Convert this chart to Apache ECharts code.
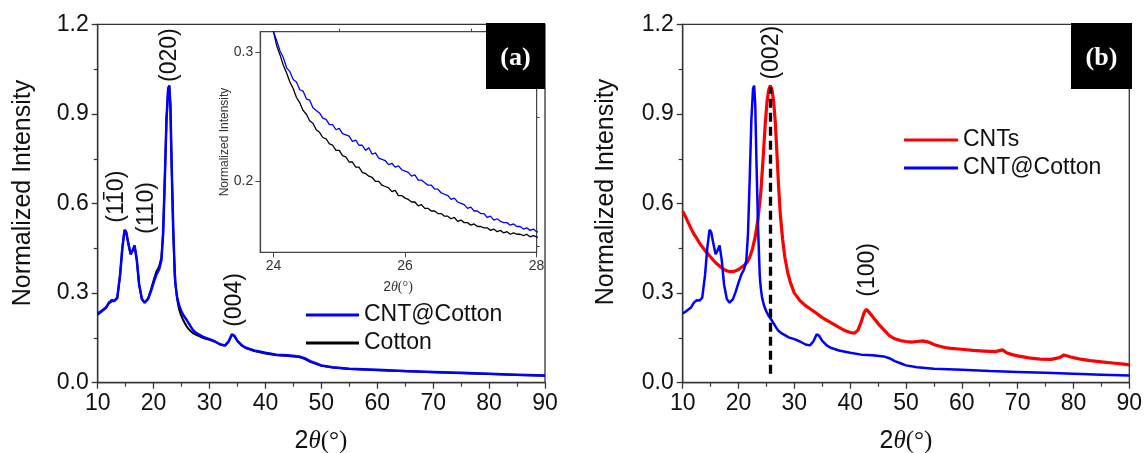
<!DOCTYPE html>
<html>
<head>
<meta charset="utf-8">
<script src="https://cdn.jsdelivr.net/npm/echarts@6/dist/echarts.min.js"></script>
<style>
  html, body { margin: 0; padding: 0; background: #fff; }
  #chart { width: 1144px; height: 453px; }
</style>
</head>
<body>
<div id="chart"></div>
<script>
// ---- XRD patterns: [2θ (°), normalized intensity] ----

// CNT@Cotton (dense sampling across 24–28° for the zoomed inset)
const cntCotton = [
  [10, 0.232], [10.5, 0.238], [11, 0.245], [11.5, 0.252], [12, 0.268], [12.5, 0.276],
  [13, 0.275], [13.5, 0.285], [14, 0.36], [14.4, 0.45], [14.8, 0.512], [15.1, 0.505],
  [15.5, 0.465], [15.9, 0.43], [16.3, 0.445], [16.6, 0.46], [17.0, 0.41], [17.4, 0.33],
  [17.9, 0.28], [18.4, 0.268], [19.0, 0.28], [19.5, 0.305], [20.0, 0.335], [20.5, 0.362],
  [21.0, 0.38], [21.4, 0.41], [21.7, 0.5], [22.0, 0.68], [22.3, 0.88], [22.6, 0.985],
  [22.8, 0.995], [23.0, 0.93], [23.2, 0.75], [23.5, 0.52], [23.8, 0.36], [23.9, 0.335],
  [24.00, 0.316], [24.05, 0.309], [24.10, 0.301], [24.15, 0.296], [24.20, 0.288], [24.25, 0.285],
  [24.30, 0.279], [24.35, 0.277], [24.40, 0.271], [24.45, 0.270], [24.50, 0.264], [24.55, 0.263],
  [24.60, 0.257], [24.65, 0.255], [24.70, 0.253], [24.75, 0.249], [24.80, 0.248], [24.85, 0.244],
  [24.90, 0.244], [24.95, 0.240], [25.00, 0.241], [25.05, 0.237], [25.10, 0.236], [25.15, 0.235],
  [25.20, 0.231], [25.25, 0.232], [25.30, 0.228], [25.35, 0.228], [25.40, 0.224], [25.45, 0.226],
  [25.50, 0.221], [25.55, 0.222], [25.60, 0.218], [25.65, 0.217], [25.70, 0.216], [25.75, 0.213],
  [25.80, 0.214], [25.85, 0.211], [25.90, 0.212], [25.95, 0.209], [26.00, 0.208], [26.05, 0.207],
  [26.10, 0.204], [26.15, 0.205], [26.20, 0.201], [26.25, 0.201], [26.30, 0.199], [26.35, 0.197],
  [26.40, 0.197], [26.45, 0.194], [26.50, 0.194], [26.55, 0.191], [26.60, 0.190], [26.65, 0.189],
  [26.70, 0.186], [26.75, 0.187], [26.80, 0.184], [26.85, 0.183], [26.90, 0.182], [26.95, 0.179],
  [27.00, 0.180], [27.05, 0.177], [27.10, 0.177], [27.15, 0.175], [27.20, 0.175], [27.25, 0.172],
  [27.30, 0.173], [27.35, 0.170], [27.40, 0.171], [27.45, 0.169], [27.50, 0.168], [27.55, 0.168],
  [27.60, 0.166], [27.65, 0.167], [27.70, 0.165], [27.75, 0.165], [27.80, 0.163], [27.85, 0.164],
  [27.90, 0.162], [27.95, 0.163], [28.00, 0.161],
  [29, 0.152], [30, 0.146], [31, 0.138], [32, 0.128], [32.8, 0.125], [33.4, 0.138],
  [34.0, 0.162], [34.4, 0.158], [35.0, 0.14], [35.8, 0.125], [36.5, 0.117], [38, 0.108],
  [40, 0.1], [42, 0.094], [44, 0.092], [46, 0.088], [47, 0.082], [48, 0.072], [49, 0.065],
  [50, 0.058], [52, 0.052], [55, 0.047], [60, 0.043], [65, 0.039], [70, 0.036], [75, 0.033],
  [80, 0.030], [85, 0.027], [90, 0.024]
];

// Cotton
const cotton = [
  [10, 0.228], [10.5, 0.235], [11, 0.243], [11.5, 0.25], [12, 0.265], [12.5, 0.273],
  [13, 0.273], [13.5, 0.283], [14, 0.36], [14.4, 0.45], [14.8, 0.51], [15.1, 0.503],
  [15.5, 0.463], [15.9, 0.43], [16.3, 0.444], [16.6, 0.458], [17.0, 0.41], [17.4, 0.33],
  [17.9, 0.28], [18.4, 0.268], [19.0, 0.282], [19.5, 0.31], [20.0, 0.343], [20.5, 0.372],
  [21.0, 0.39], [21.4, 0.42], [21.7, 0.5], [22.0, 0.68], [22.3, 0.88], [22.6, 0.985],
  [22.8, 0.995], [23.0, 0.93], [23.2, 0.75], [23.5, 0.51], [23.8, 0.35], [23.9, 0.33],
  [24.00, 0.316], [24.05, 0.305], [24.10, 0.298], [24.15, 0.290], [24.20, 0.284], [24.25, 0.277],
  [24.30, 0.272], [24.35, 0.265], [24.40, 0.261], [24.45, 0.255], [24.50, 0.252], [24.55, 0.247],
  [24.60, 0.245], [24.65, 0.240], [24.70, 0.238], [24.75, 0.234], [24.80, 0.233], [24.85, 0.229],
  [24.90, 0.228], [24.95, 0.224], [25.00, 0.224], [25.05, 0.220], [25.10, 0.219], [25.15, 0.215],
  [25.20, 0.215], [25.25, 0.211], [25.30, 0.211], [25.35, 0.207], [25.40, 0.206], [25.45, 0.204],
  [25.50, 0.203], [25.55, 0.200], [25.60, 0.200], [25.65, 0.197], [25.70, 0.196], [25.75, 0.195],
  [25.80, 0.192], [25.85, 0.193], [25.90, 0.189], [25.95, 0.189], [26.00, 0.187], [26.05, 0.186],
  [26.10, 0.184], [26.15, 0.184], [26.20, 0.181], [26.25, 0.182], [26.30, 0.179], [26.35, 0.179],
  [26.40, 0.177], [26.45, 0.177], [26.50, 0.175], [26.55, 0.175], [26.60, 0.173], [26.65, 0.173],
  [26.70, 0.171], [26.75, 0.172], [26.80, 0.169], [26.85, 0.170], [26.90, 0.168], [26.95, 0.168],
  [27.00, 0.166], [27.05, 0.167], [27.10, 0.165], [27.15, 0.165], [27.20, 0.164], [27.25, 0.164],
  [27.30, 0.162], [27.35, 0.163], [27.40, 0.161], [27.45, 0.162], [27.50, 0.160], [27.55, 0.161],
  [27.60, 0.159], [27.65, 0.160], [27.70, 0.159], [27.75, 0.159], [27.80, 0.158], [27.85, 0.159],
  [27.90, 0.157], [27.95, 0.158], [28.00, 0.157],
  [29, 0.149], [30, 0.144], [31, 0.137], [32, 0.127], [32.8, 0.124], [33.4, 0.137],
  [34.0, 0.16], [34.4, 0.157], [35.0, 0.139], [35.8, 0.124], [36.5, 0.116], [38, 0.106],
  [40, 0.098], [42, 0.092], [44, 0.089], [46, 0.086], [47, 0.08], [48, 0.07], [49, 0.063],
  [50, 0.057], [52, 0.051], [55, 0.046], [60, 0.042], [65, 0.038], [70, 0.035], [75, 0.032],
  [80, 0.029], [85, 0.026], [90, 0.023]
];

// CNTs
const cnts = [
  [10, 0.574], [10.5, 0.556], [11, 0.536], [11.5, 0.516], [12, 0.498], [12.5, 0.484],
  [13, 0.468], [13.5, 0.455], [14, 0.443], [14.5, 0.432], [15, 0.421], [15.5, 0.41],
  [16, 0.4], [16.5, 0.392], [17, 0.385], [17.5, 0.378], [18, 0.374], [18.5, 0.372],
  [19, 0.372], [19.5, 0.375], [20, 0.379], [20.5, 0.386], [21, 0.393], [21.5, 0.402],
  [22, 0.42], [22.5, 0.448], [23, 0.49], [23.5, 0.55], [24, 0.64], [24.4, 0.75],
  [24.8, 0.87], [25.1, 0.94], [25.4, 0.98], [25.7, 0.995], [26.0, 0.98], [26.3, 0.94],
  [26.6, 0.87], [26.9, 0.76], [27.2, 0.65], [27.5, 0.56], [27.9, 0.48], [28.3, 0.42],
  [28.8, 0.37], [29.3, 0.335], [30, 0.3], [31, 0.275], [32, 0.258], [33, 0.245],
  [34, 0.232], [35, 0.218], [36, 0.207], [37, 0.196], [38, 0.185], [39, 0.175],
  [40, 0.168], [40.8, 0.166], [41.4, 0.176], [42, 0.205], [42.5, 0.235], [42.9, 0.246],
  [43.3, 0.238], [44, 0.222], [45, 0.198], [46, 0.178], [47, 0.158], [48, 0.147],
  [49, 0.141], [50, 0.138], [51, 0.136], [52, 0.138], [53, 0.14], [54, 0.136],
  [55, 0.128], [56, 0.122], [57, 0.118], [58, 0.115], [60, 0.112], [62, 0.108],
  [64, 0.106], [66, 0.104], [67.3, 0.11], [68, 0.1], [69, 0.094], [70, 0.09],
  [72, 0.083], [74, 0.079], [76, 0.078], [77.5, 0.084], [78.3, 0.093], [79.5, 0.086],
  [81, 0.08], [83, 0.074], [85, 0.07], [87, 0.066], [89, 0.062], [90, 0.06]
];

// (002) reference position drawn as a dashed guide in panel (b)
const guide002X = 25.6;
const guide002Y = [0.03, 0.99];

// Reflection labels: [text, 2θ, intensity, barred character index or -1]
const peakLabelsA = [
  ['(020)', 22.9, 1.097, -1],
  ['(110)', 13.4, 0.623, 2],
  ['(110)', 18.75, 0.585, -1],
  ['(004)', 34.5, 0.277, -1]
];
const peakLabelsB = [
  ['(002)', 25.94, 1.105, -1],
  ['(100)', 43.2, 0.378, -1]
];

// Axis ticks
const mainXTicks = { min: 10, max: 90, interval: 10 };
const mainYTicks = { min: 0, max: 1.2, interval: 0.3 };
const insetXRange = [23.8, 28];
const insetXLabels = [24, 26, 28];
const insetXMinor = [25, 27];
const insetYRange = [0.145, 0.316];
const insetYLabels = [0.2, 0.3];
const insetYMinor = [0.15, 0.25];

// ---- chart ----
const SANS = '"Liberation Sans", Arial, sans-serif';
const SERIF = '"Liberation Serif", "Times New Roman", serif';
const AXIS_COLOR = '#333';

const chart = echarts.init(document.getElementById('chart'), null, { renderer: 'canvas' });

function mainX(gridIndex) {
  return {
    type: 'value', gridIndex, min: mainXTicks.min, max: mainXTicks.max, interval: mainXTicks.interval,
    axisLine: { lineStyle: { color: AXIS_COLOR, width: 1.3 } },
    axisTick: { length: 6, lineStyle: { color: AXIS_COLOR, width: 1.3 } },
    minorTick: { show: true, splitNumber: 2, length: 4, lineStyle: { color: AXIS_COLOR, width: 1.2 } },
    axisLabel: { fontSize: 23, fontFamily: SANS, color: '#111', margin: 9 },
    splitLine: { show: false }
  };
}
function mainY(gridIndex) {
  return {
    type: 'value', gridIndex, min: mainYTicks.min, max: mainYTicks.max, interval: mainYTicks.interval,
    axisLine: { show: true, lineStyle: { color: AXIS_COLOR, width: 1.3 } },
    axisTick: { show: true, length: 6, lineStyle: { color: AXIS_COLOR, width: 1.3 } },
    minorTick: { show: true, splitNumber: 2, length: 4, lineStyle: { color: AXIS_COLOR, width: 1.2 } },
    axisLabel: { fontSize: 23, fontFamily: SANS, color: '#111', margin: 9, formatter: v => v.toFixed(1) },
    splitLine: { show: false }
  };
}

const option = {
  animation: false,
  backgroundColor: '#fff',
  grid: [
    { left: 97.7, top: 24.4, width: 447.3, height: 358.3, show: true, borderColor: AXIS_COLOR, borderWidth: 1.3, containLabel: false, outerBoundsMode: 'none' },
    { left: 682.7, top: 24.4, width: 446.6, height: 358.3, show: true, borderColor: AXIS_COLOR, borderWidth: 1.3, containLabel: false, outerBoundsMode: 'none' },
    { left: 260.3, top: 31.7, width: 276.3, height: 220.6, show: true, z: 5, backgroundColor: '#fff', borderColor: '#444', borderWidth: 1.2, containLabel: false, outerBoundsMode: 'none' }
  ],
  xAxis: [
    mainX(0),
    mainX(1),
    {
      type: 'value', gridIndex: 2, min: insetXRange[0], max: insetXRange[1], z: 6,
      axisLine: { lineStyle: { color: '#444', width: 1.2 } },
      axisTick: { customValues: insetXLabels, length: 5, lineStyle: { color: '#444' } },
      axisLabel: { customValues: insetXLabels, fontSize: 14, fontFamily: SANS, color: '#333', margin: 7 },
      splitLine: { show: false }
    },
    {
      type: 'value', gridIndex: 2, min: insetXRange[0], max: insetXRange[1], z: 6,
      axisLine: { show: false },
      axisTick: { customValues: insetXMinor, length: 3, lineStyle: { color: '#444' } },
      axisLabel: { show: false },
      splitLine: { show: false }
    }
  ],
  yAxis: [
    mainY(0),
    mainY(1),
    {
      type: 'value', gridIndex: 2, min: insetYRange[0], max: insetYRange[1], z: 6,
      axisLine: { show: true, lineStyle: { color: '#444', width: 1.2 } },
      axisTick: { show: true, customValues: insetYLabels, length: 5, lineStyle: { color: '#444' } },
      axisLabel: { customValues: insetYLabels, fontSize: 14, fontFamily: SANS, color: '#333', margin: 7, formatter: v => v.toFixed(1) },
      splitLine: { show: false }
    },
    {
      type: 'value', gridIndex: 2, min: insetYRange[0], max: insetYRange[1], z: 6,
      axisLine: { show: false },
      axisTick: { show: true, customValues: insetYMinor, length: 3, lineStyle: { color: '#444' } },
      axisLabel: { show: false },
      splitLine: { show: false }
    }
  ],
  legend: [
    {
      data: ['CNT@Cotton', 'Cotton'], orient: 'vertical', left: 301, top: 297.5,
      icon: 'rect', itemWidth: 53, itemHeight: 3, itemGap: 3,
      textStyle: { fontSize: 23, fontFamily: SANS, color: '#111', lineHeight: 25 }
    },
    {
      data: ['CNTs', 'CNT@Cotton'], orient: 'vertical', left: 899, top: 122.5,
      icon: 'rect', itemWidth: 54, itemHeight: 3, itemGap: 3,
      textStyle: { fontSize: 23, fontFamily: SANS, color: '#111', lineHeight: 25 }
    }
  ],
  series: [
    { name: 'Cotton', type: 'line', xAxisIndex: 0, yAxisIndex: 0, data: cotton, showSymbol: false, symbol: 'none', z: 2,
      lineStyle: { color: '#000', width: 2 }, itemStyle: { color: '#000' } },
    { name: 'CNT@Cotton', type: 'line', xAxisIndex: 0, yAxisIndex: 0, data: cntCotton, showSymbol: false, symbol: 'none', z: 3,
      lineStyle: { color: '#0000ff', width: 2.5 }, itemStyle: { color: '#0000ff' } },
    { name: 'Cotton', type: 'line', xAxisIndex: 2, yAxisIndex: 2, data: cotton, showSymbol: false, symbol: 'none', z: 7,
      lineStyle: { color: '#000', width: 1.3 }, itemStyle: { color: '#000' } },
    { name: 'CNT@Cotton', type: 'line', xAxisIndex: 2, yAxisIndex: 2, data: cntCotton, showSymbol: false, symbol: 'none', z: 8,
      lineStyle: { color: '#0000ff', width: 1.3 }, itemStyle: { color: '#0000ff' } },
    { name: 'CNTs', type: 'line', xAxisIndex: 1, yAxisIndex: 1, data: cnts, showSymbol: false, symbol: 'none', z: 2,
      lineStyle: { color: '#ff0000', width: 3.2 }, itemStyle: { color: '#ff0000' },
      markLine: {
        silent: true, symbol: 'none', z: 10, label: { show: false },
        lineStyle: { color: '#000', width: 3.3, type: [9, 5] },
        data: [[{ coord: [guide002X, guide002Y[0]] }, { coord: [guide002X, guide002Y[1]] }]]
      } },
    { name: 'CNT@Cotton', type: 'line', xAxisIndex: 1, yAxisIndex: 1, data: cntCotton, showSymbol: false, symbol: 'none', z: 3,
      lineStyle: { color: '#0000ff', width: 2.5 }, itemStyle: { color: '#0000ff' } }
  ]
};

chart.setOption(option);

// ---- annotations and titles ----
function rotatedText(text, x, y, font, fill) {
  return { type: 'text', x, y, rotation: Math.PI / 2, z: 20,
    style: { text, font, fill, align: 'center', verticalAlign: 'middle' } };
}
// Miller index label, optionally with an overbar on one digit (negative index)
const measureCtx = document.createElement('canvas').getContext('2d');
function millerLabel(text, x, y, barIndex) {
  const size = 23;
  const font = size + 'px ' + SANS;
  const out = [rotatedText(text, x, y, font, '#111')];
  if (barIndex >= 0) {
    measureCtx.font = font;
    const total = measureCtx.measureText(text).width;
    const before = measureCtx.measureText(text.slice(0, barIndex)).width;
    const w = measureCtx.measureText(text[barIndex]).width;
    // along-text offset of the barred glyph centre, measured from the label centre
    const along = -total / 2 + before + w / 2;
    // label reads bottom-to-top: "along" runs upward, the bar sits to the left of the glyphs
    const cx = x - 13;
    const cy = y - along;
    out.push({ type: 'line', z: 21,
      shape: { x1: cx, y1: cy - w * 0.3, x2: cx, y2: cy + w * 0.3 },
      style: { stroke: '#111', lineWidth: 1.5 } });
  }
  return out;
}
function thetaTitle(cx, cy, size, color) {
  return { type: 'text', x: cx, y: cy, z: 20,
    style: {
      text: '{a|2}{b|θ}{c|(°)}', align: 'center', verticalAlign: 'middle', fill: color,
      rich: {
        a: { fontFamily: SANS, fontSize: size, fill: color },
        b: { fontFamily: SERIF, fontStyle: 'italic', fontSize: size, fill: color },
        c: { fontFamily: SERIF, fontSize: size, fill: color }
      }
    } };
}
function panelBadge(x, y, w, h, label) {
  return [
    { type: 'rect', z: 30, shape: { x, y, width: w, height: h }, style: { fill: '#000' } },
    { type: 'text', z: 31, x: x + w / 2, y: y + h / 2 + 2,
      style: { text: label, font: 'bold 26px ' + SERIF, fill: '#fff', align: 'center', verticalAlign: 'middle' } }
  ];
}

const graphics = [];
peakLabelsA.forEach(([t, x, y, bar]) => {
  const p = chart.convertToPixel({ gridIndex: 0 }, [x, y]);
  graphics.push(...millerLabel(t, p[0], p[1], bar));
});
peakLabelsB.forEach(([t, x, y, bar]) => {
  const p = chart.convertToPixel({ gridIndex: 1 }, [x, y]);
  graphics.push(...millerLabel(t, p[0], p[1], bar));
});
// axis titles
graphics.push(rotatedText('Normalized Intensity', 23, 193, '25px ' + SANS, '#111'));
graphics.push(rotatedText('Normalized Intensity', 606, 192, '25px ' + SANS, '#111'));
graphics.push(thetaTitle(321, 441, 25, '#111'));
graphics.push(thetaTitle(906, 441, 25, '#111'));
// inset titles
graphics.push(rotatedText('Normalized Intensity', 225, 142, '12px ' + SANS, '#333'));
graphics.push(thetaTitle(398, 287, 14, '#333'));
// panel badges
graphics.push(...panelBadge(486, 23, 59, 66, '(a)'));
graphics.push(...panelBadge(1071, 23, 61, 66, '(b)'));

chart.setOption({ graphic: graphics });
</script>
</body>
</html>
